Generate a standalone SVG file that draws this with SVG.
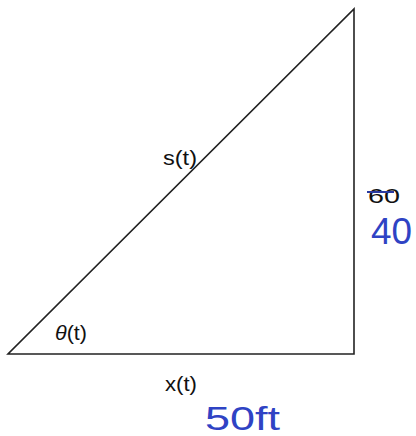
<svg xmlns="http://www.w3.org/2000/svg" width="416" height="436" viewBox="0 0 416 436">
<style>
.edge{fill:none;stroke:#222;stroke-width:1.6}
.lbl{font-family:"Liberation Sans",Arial,sans-serif;font-size:21px;fill:#111}
.hand{font-family:"Liberation Sans",Arial,sans-serif;fill:#2f43c4}
</style>
<rect width="416" height="436" fill="#fff"/>
<g id="connectors">
<path class="edge" d="M8,354 L354,354 L354,9 Z"/>
</g>
<g id="label-s"><text class="lbl" x="163" y="165" textLength="34" lengthAdjust="spacingAndGlyphs">s(t)</text></g>
<g id="label-theta"><text class="lbl" x="55" y="340" textLength="32" lengthAdjust="spacingAndGlyphs"><tspan font-style="italic">θ</tspan>(t)</text></g>
<g id="label-x"><text class="lbl" x="165" y="391" textLength="32" lengthAdjust="spacingAndGlyphs">x(t)</text></g>
<g id="label-60">
<text class="lbl" x="368" y="203" font-size="15" textLength="32" lengthAdjust="spacingAndGlyphs">60</text>
<line x1="367" y1="192" x2="394" y2="192" stroke="#2a3aa0" stroke-width="2"/>
</g>
<g id="label-40"><text class="hand" x="371" y="244" font-size="37" textLength="41" lengthAdjust="spacingAndGlyphs">40</text></g>
<g id="label-50ft"><text class="hand" x="205" y="430" font-size="34" textLength="75" lengthAdjust="spacingAndGlyphs">50ft</text></g>
</svg>
